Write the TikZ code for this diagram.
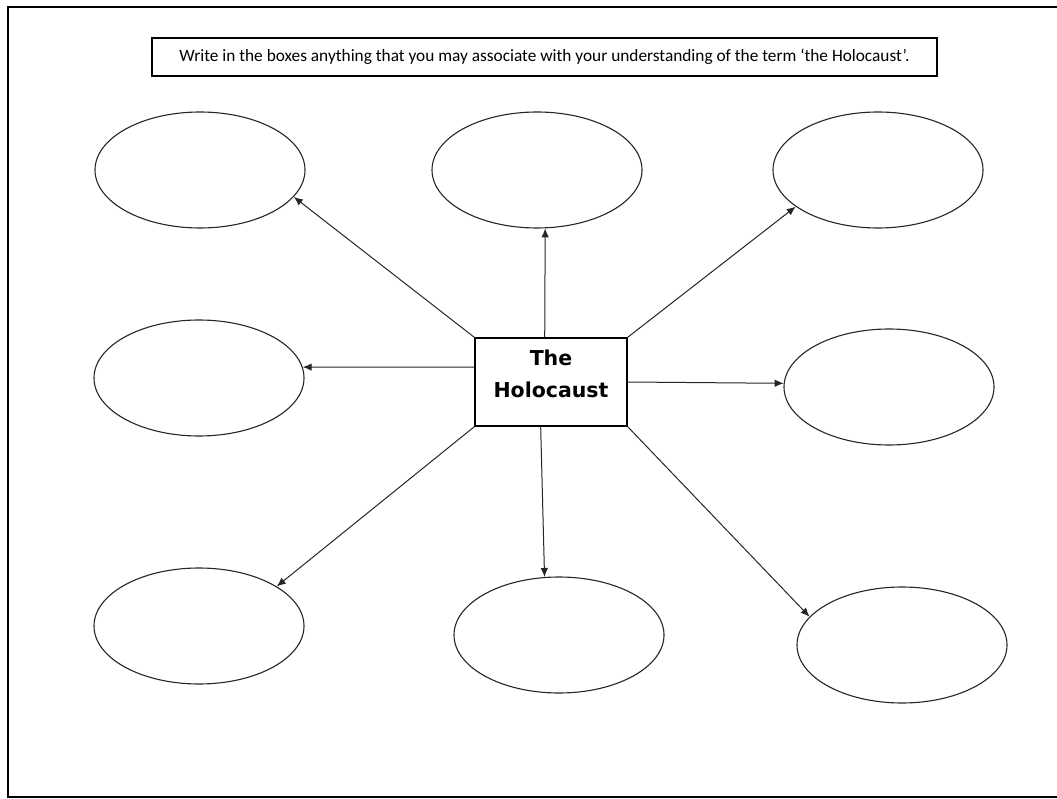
\documentclass[tikz,border=0pt]{standalone}
\usepackage{fontspec}
\setmainfont{Carlito}
\newfontfamily\boxfont{DejaVu Sans}
\usetikzlibrary{shapes.geometric,arrows.meta}
\tikzset{
  bubble/.style={ellipse, draw=black!85, line width=1.1pt, minimum width=210pt, minimum height=116pt, inner sep=0pt},
  link/.style={draw=black!85, line width=1pt, -{Latex[length=9pt,width=7.5pt]}},
  frameline/.style={line width=2pt, black},
}
\begin{document}
\begin{tikzpicture}[x=1pt,y=-1pt]
\useasboundingbox (0,0) rectangle (1057,799);
\fill[white] (0,0) rectangle (1057,799);
\draw[frameline] (1057,7) -- (8,7) -- (8,797) -- (1057,797);
\node[draw, line width=1.2pt, minimum width=785pt, minimum height=38pt, inner sep=0pt, font=\fontsize{17.3}{20}\selectfont] (title) at (544.5,57) {Write in the boxes anything that you may associate with your understanding of the term ‘the Holocaust’.};
\node[draw, line width=1.5pt, minimum width=152pt, minimum height=88pt, inner sep=0pt] (c) at (551,382) {};
\node[align=center, inner sep=0pt, font=\boxfont\bfseries\fontsize{20.5}{32}\selectfont] (ctext) at (551,374) {The\\Holocaust};
\node[bubble] (tl) at (200,170) {};
\node[bubble] (tc) at (537,170) {};
\node[bubble] (tr) at (878,170) {};
\node[bubble] (ml) at (199,378) {};
\node[bubble] (mr) at (889,387) {};
\node[bubble] (bl) at (199,626) {};
\node[bubble] (bc) at (559,635) {};
\node[bubble] (br) at (902,645) {};
\draw[link] (c.north west) -- (tl.-16);
\draw[link] (c.98) -- (tc.-82);
\draw[link] (c.north east) -- (tr.204);
\draw[link] (c.169) -- (ml.6);
\draw[link] (c.east) -- (mr.178);
\draw[link] (c.south west) -- (bl.27);
\draw[link] (c.257) -- (bc.104);
\draw[link] (c.south east) -- (br.163);
\end{tikzpicture}
\end{document}
